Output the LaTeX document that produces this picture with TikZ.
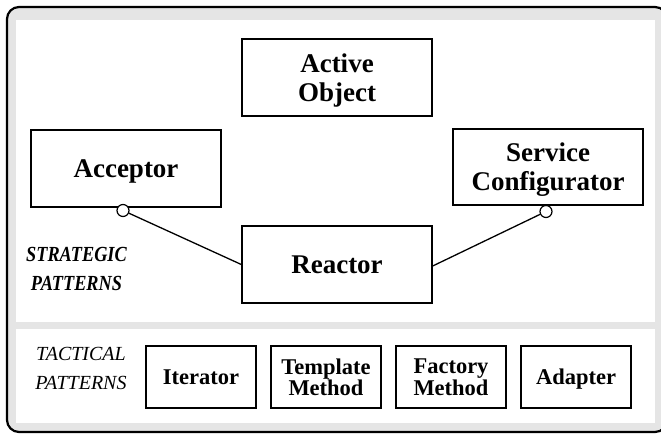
\documentclass[tikz,border=0pt]{standalone}
\usepackage{fontspec}
\setmainfont{Liberation Serif}
\newfontfamily\stratfont[FakeStretch=0.85]{Liberation Serif}
\begin{document}
\begin{tikzpicture}[x=1pt,y=-1pt,
  bigbox/.style={draw, line width=1.4pt, fill=white, inner sep=0pt,
    minimum width=190pt, minimum height=77pt, align=center, text depth=0pt,
    font=\fontsize{27}{29}\selectfont\bfseries},
  smallbox/.style={draw, line width=1.4pt, fill=white, inner sep=0pt,
    minimum width=110pt, minimum height=62pt, align=center, text depth=0pt,
    font=\fontsize{22.5}{21.5}\selectfont\bfseries},
  port/.style={circle, draw, line width=1.2pt, fill=white, inner sep=0pt, minimum size=12pt},
  link/.style={line width=1.3pt},
  stratlabel/.style={align=center, inner sep=0pt,
    font=\stratfont\fontsize{21.5}{29}\selectfont\bfseries\itshape},
  tactlabel/.style={align=center, inner sep=0pt,
    font=\fontsize{20}{29.3}\selectfont\itshape}]
\useasboundingbox (0,0) rectangle (661,435);
% frame
\draw[line width=2.2pt, fill=black!10, rounded corners=12pt] (7,7) rectangle (667,432);
\fill[white] (15.5,20.5) rectangle (655,322.5);
\fill[white] (15.5,329) rectangle (655,423);
% strategic patterns
\node[bigbox] (actobj) at (337,77.5) {Active\\Object};
\node[bigbox] (acceptor) at (126,168.5) {Acceptor};
\node[bigbox, minimum height=76pt] (service) at (548,167) {Service\\Configurator};
\node[bigbox] (reactor) at (337,264.5) {Reactor};
\node[port] (accport) at (123,210.5) {};
\node[port] (svcport) at (546,211.5) {};
\draw[link] (accport) -- (reactor.west);
\draw[link] (svcport) -- ([yshift=-1.5pt]reactor.east);
\node[stratlabel] (strat) at (76.5,268.7) {STRATEGIC\\PATTERNS};
% tactical patterns
\node[tactlabel] (tact) at (81,368.5) {TACTICAL\\PATTERNS};
\node[smallbox] (iter) at (201,377) {Iterator};
\node[smallbox] (templ) at (326,377) {Template\\Method};
\node[smallbox] (fact) at (451,377) {Factory\\Method};
\node[smallbox] (adapt) at (576,377) {Adapter};
\end{tikzpicture}
\end{document}
